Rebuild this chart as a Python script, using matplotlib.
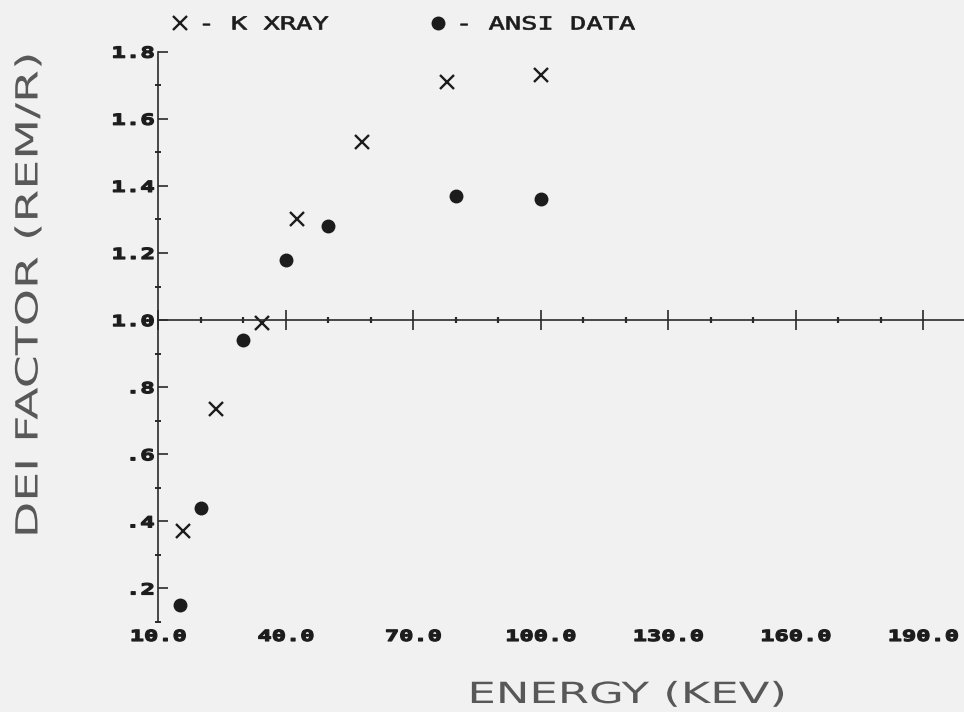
import matplotlib
matplotlib.use("Agg")
import matplotlib.pyplot as plt
from matplotlib.patheffects import AbstractPathEffect
from matplotlib.transforms import Affine2D
from matplotlib.ticker import FixedLocator, MultipleLocator

# K x-ray energies (keV) and their DEI factors
kxray_energy = [15.9, 23.6, 34.4, 42.6, 58.0, 78.0, 100.0]
kxray_dei = [0.37, 0.735, 0.99, 1.30, 1.53, 1.71, 1.73]

# ANSI reference energies (keV) and DEI factors
ansi_energy = [15.0, 20.0, 30.0, 40.0, 50.0, 80.0, 100.0]
ansi_dei = [0.15, 0.44, 0.94, 1.18, 1.28, 1.37, 1.36]

x_ticks = [10, 40, 70, 100, 130, 160, 190]
x_tick_labels = ["10.0", "40.0", "70.0", "100.0", "130.0", "160.0", "190.0"]
y_ticks = [0.2, 0.4, 0.6, 0.8, 1.0, 1.2, 1.4, 1.6, 1.8]
y_tick_labels = [".2", ".4", ".6", ".8", "1.0", "1.2", "1.4", "1.6", "1.8"]

BG = "#f1f1f1"
INK = "#1c1c1c"
AXIS = "#2a2a2a"


class Stretch(AbstractPathEffect):
    """Widen glyph outlines along the text direction (plotter-style lettering),
    optionally thickening the strokes with an outline of the same colour."""

    def __init__(self, sx, anchor=0.5, stroke=0.0):
        super().__init__()
        self.sx = sx
        self.anchor = anchor
        self.stroke = stroke

    def draw_path(self, renderer, gc, tpath, affine, rgbFace=None):
        if len(tpath.vertices) == 0:
            return
        ext = tpath.get_extents()
        p = ext.x0 + self.anchor * ext.width
        t = Affine2D().translate(-p, 0).scale(self.sx, 1.0).translate(p, 0) + affine
        gc0 = renderer.new_gc()
        gc0.copy_properties(gc)
        if self.stroke > 0 and rgbFace is not None:
            gc0.set_linewidth(self.stroke)
            gc0.set_foreground(rgbFace)
            gc0.set_joinstyle("round")
        renderer.draw_path(gc0, tpath, t, rgbFace)
        gc0.restore()


plt.rcParams["font.family"] = ["DejaVu Sans Mono"]
plt.rcParams["font.weight"] = "bold"

fig = plt.figure(figsize=(9.64, 7.12), dpi=100, facecolor=BG)
ax = fig.add_axes([0.1642, 0.1264, 0.8377, 0.801])
ax.patch.set_visible(False)

ax.plot(kxray_energy, kxray_dei, linestyle="none", marker="x", ms=10, mew=1.7,
        color=INK, label="- K XRAY", clip_on=False)
ax.plot(ansi_energy, ansi_dei, linestyle="none", marker="o", ms=9,
        color=INK, label="- ANSI DATA", clip_on=False)

ax.set_xlim(10, 200)
ax.set_ylim(0.1, 1.8)

for side in ("top", "right"):
    ax.spines[side].set_visible(False)
ax.spines["bottom"].set_position(("data", 1.0))
for side in ("bottom", "left"):
    ax.spines[side].set_color(AXIS)
    ax.spines[side].set_linewidth(1.2)

# energy axis drawn through DEI = 1.0
ax.xaxis.set_major_locator(FixedLocator(x_ticks))
ax.xaxis.set_minor_locator(MultipleLocator(10))
ax.tick_params(axis="x", which="major", direction="inout", length=14, width=1.2,
               color=AXIS, labelbottom=False)
ax.tick_params(axis="x", which="minor", direction="inout", length=5, width=1.6,
               color=AXIS)

ax.set_yticks(y_ticks, y_tick_labels)
ax.yaxis.set_minor_locator(MultipleLocator(0.1))
ax.tick_params(axis="y", which="major", direction="in", length=7, width=1.2,
               color=AXIS, pad=3, labelsize=11, labelcolor=INK)
ax.tick_params(axis="y", which="minor", direction="inout", length=4, width=1.4,
               color=AXIS)

# energy labels along the bottom of the plot
sec = ax.secondary_xaxis(0.0)
sec.set_xticks(x_ticks, x_tick_labels)
sec.tick_params(length=0, pad=5, labelsize=11, labelcolor=INK)
sec.spines["bottom"].set_visible(False)

ax.set_xlabel("ENERGY (KEV)", family="DejaVu Sans", weight="normal", size=21, color="#585858")
ax.xaxis.label.set_verticalalignment("center")
ax.xaxis.set_label_coords(0.5805, -0.128)
ax.xaxis.label.set_path_effects([Stretch(1.54, 0.5)])

ax.set_ylabel("DEI FACTOR (REM/R)", family="DejaVu Sans", weight="normal", size=22, color="#585858")
ax.yaxis.label.set_verticalalignment("center")
ax.yaxis.set_label_coords(-0.1601, 0.5734)
ax.yaxis.label.set_path_effects([Stretch(1.55, 0.5)])

leg = ax.legend(loc="center left", bbox_to_anchor=(172.8 / 964, 1 - 24.5 / 712),
                bbox_transform=fig.transFigure, ncol=2, frameon=False, borderpad=0,
                borderaxespad=0, handlelength=0.8, handletextpad=0.7, columnspacing=7.95,
                prop={"family": "DejaVu Sans Mono", "weight": "normal", "size": 13})
for t in leg.get_texts():
    t.set_color(INK)
    t.set_path_effects([Stretch(1.5, 0.0, stroke=0.5)])

fig.canvas.draw()
for lbl in ax.get_yticklabels():
    lbl.set_path_effects([Stretch(1.58, 1.0, stroke=0.9)])
for lbl in sec.get_xticklabels():
    lbl.set_path_effects([Stretch(1.55, 0.5, stroke=0.9)])

fig.savefig("out.png", dpi=100, facecolor=BG)
